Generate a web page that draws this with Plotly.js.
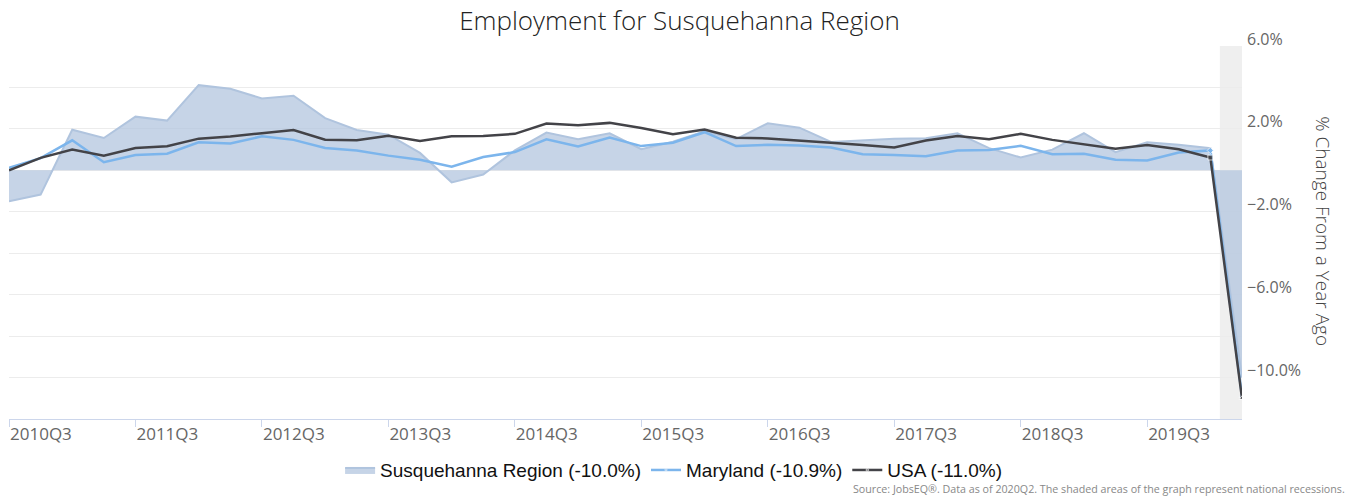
<!DOCTYPE html>
<html>
<head>
<meta charset="utf-8">
<script src="https://cdn.plot.ly/plotly-3.0.1.min.js"></script>
<style>html,body{margin:0;padding:0;background:#fff;}#chart{width:1359px;height:497px;}</style>
</head>
<body>
<div id="chart"></div>
<script>
const quarters = ["2010Q3","2010Q4","2011Q1","2011Q2","2011Q3","2011Q4","2012Q1","2012Q2",
  "2012Q3","2012Q4","2013Q1","2013Q2","2013Q3","2013Q4","2014Q1","2014Q2",
  "2014Q3","2014Q4","2015Q1","2015Q2","2015Q3","2015Q4","2016Q1","2016Q2",
  "2016Q3","2016Q4","2017Q1","2017Q2","2017Q3","2017Q4","2018Q1","2018Q2",
  "2018Q3","2018Q4","2019Q1","2019Q2","2019Q3","2019Q4","2020Q1","2020Q2"];

const susquehanna = [-1.49,-1.17,1.96,1.56,2.59,2.40,4.11,3.94,
  3.47,3.60,2.52,1.95,1.72,0.84,-0.58,-0.20,
  0.96,1.82,1.50,1.79,1.02,1.38,1.88,1.50,
  2.27,2.06,1.37,1.45,1.52,1.55,1.79,1.07,
  0.62,1.00,1.79,0.88,1.36,1.23,1.07,-10.0];

const maryland = [0.12,0.59,1.45,0.39,0.74,0.80,1.35,1.30,
  1.64,1.47,1.08,0.96,0.71,0.51,0.17,0.64,
  0.88,1.50,1.15,1.58,1.17,1.33,1.84,1.17,
  1.23,1.20,1.10,0.78,0.74,0.68,0.96,0.98,
  1.18,0.78,0.80,0.51,0.48,0.86,0.96,-10.9];

const usa = [0.00,0.60,1.00,0.71,1.08,1.16,1.53,1.63,
  1.79,1.94,1.48,1.45,1.67,1.42,1.65,1.66,
  1.76,2.26,2.17,2.29,2.04,1.74,1.97,1.57,
  1.54,1.42,1.33,1.22,1.10,1.44,1.66,1.50,
  1.76,1.47,1.26,1.04,1.22,1.02,0.62,-11.0];

const seriesNames = ["Susquehanna Region (-10.0%)","Maryland (-10.9%)","USA (-11.0%)"];
const xTickLabels = ["2010Q3","2011Q3","2012Q3","2013Q3","2014Q3","2015Q3","2016Q3","2017Q3","2018Q3","2019Q3"];
const yTickVals = [6,4,2,0,-2,-4,-6,-8,-10,-12];
const yTickText = ["6.0%","","2.0%","","−2.0%","","−6.0%","","−10.0%",""];
const recession = [38.3, 39];

const n = quarters.length;
function markerSizes(sz){ return quarters.map((q,i)=> i>=n-2 ? sz : 0); }

const traces = [
  {
    x: quarters, y: susquehanna, name: seriesNames[0], type: 'scatter', mode: 'lines',
    fill: 'tozeroy', fillcolor: 'rgba(176,196,222,0.72)',
    line: {color: '#b0c4de', width: 2}, hoverinfo: 'x+y'
  },
  {
    x: quarters, y: maryland, name: seriesNames[1], type: 'scatter', mode: 'lines+markers',
    line: {color: '#7cb5ec', width: 2.5},
    marker: {color: '#7cb5ec', size: markerSizes(5), symbol: quarters.map((q,i)=> i===n-1 ? 'triangle-up' : 'diamond')},
    hoverinfo: 'x+y'
  },
  {
    x: quarters, y: usa, name: seriesNames[2], type: 'scatter', mode: 'lines+markers',
    line: {color: '#434348', width: 2.5},
    marker: {color: '#434348', size: markerSizes(5), symbol: quarters.map((q,i)=> i===n-1 ? 'triangle-up' : 'square')},
    hoverinfo: 'x+y'
  }
];

const layout = {
  width: 1359, height: 497,
  margin: {l: 9, r: 117, t: 46, b: 77},
  paper_bgcolor: '#ffffff', plot_bgcolor: '#ffffff',
  font: {family: 'Open Sans, sans-serif', color: '#666666'},
  title: {
    text: 'Employment for Susquehanna Region',
    font: {family: 'Open Sans, sans-serif', size: 26, color: '#222222', weight: 300},
    x: 0.5, xanchor: 'center', y: 0.958, yanchor: 'middle', yref: 'container'
  },
  showlegend: true,
  legend: {
    orientation: 'h', x: 0.539, xanchor: 'center', y: -0.134, yanchor: 'middle',
    font: {family: 'Liberation Sans, Arial, sans-serif', size: 19, color: '#111111'},
    itemwidth: 30, traceorder: 'normal', tracegroupgap: 0
  },
  xaxis: {
    type: 'category', range: [0, 39],
    tickmode: 'array', tickvals: xTickLabels, ticktext: xTickLabels,
    ticks: 'outside', ticklen: 7, tickcolor: '#ccd6eb', tickwidth: 1,
    ticklabelposition: 'outside right',
    tickfont: {family: 'Open Sans, sans-serif', size: 17, color: '#666666'},
    showline: true, linecolor: '#ccd6eb', linewidth: 1,
    showgrid: false, zeroline: false, fixedrange: true
  },
  yaxis: {
    side: 'right', range: [-12, 6],
    tickmode: 'array', tickvals: yTickVals, ticktext: yTickText,
    ticks: '', ticklabelshift: -7, ticklabelstandoff: 4,
    tickfont: {family: 'Open Sans, sans-serif', size: 16, color: '#666666'},
    showgrid: true, gridcolor: '#ececec', gridwidth: 1,
    zeroline: false, showline: false, fixedrange: true
  },
  shapes: [{
    type: 'rect', xref: 'x', yref: 'paper', x0: recession[0], x1: recession[1], y0: 0, y1: 1,
    fillcolor: '#efefef', line: {width: 0}, layer: 'between'
  }],
  annotations: [
    {
      text: '% Change From a Year Ago', xref: 'paper', yref: 'paper', x: 1.065, y: 0.503,
      xanchor: 'center', yanchor: 'middle', textangle: 90, showarrow: false,
      font: {family: 'Open Sans, sans-serif', size: 19, color: '#444444', weight: 300}
    },
    {
      text: 'Source: JobsEQ®. Data as of 2020Q2. The shaded areas of the graph represent national recessions.',
      xref: 'paper', yref: 'paper', x: 1.0852, y: -0.189, xanchor: 'right', yanchor: 'middle',
      showarrow: false, font: {family: 'Open Sans, sans-serif', size: 10.7, color: '#888888'}
    }
  ]
};

Plotly.newPlot('chart', traces, layout, {displayModeBar: false, staticPlot: true});
</script>
</body>
</html>
